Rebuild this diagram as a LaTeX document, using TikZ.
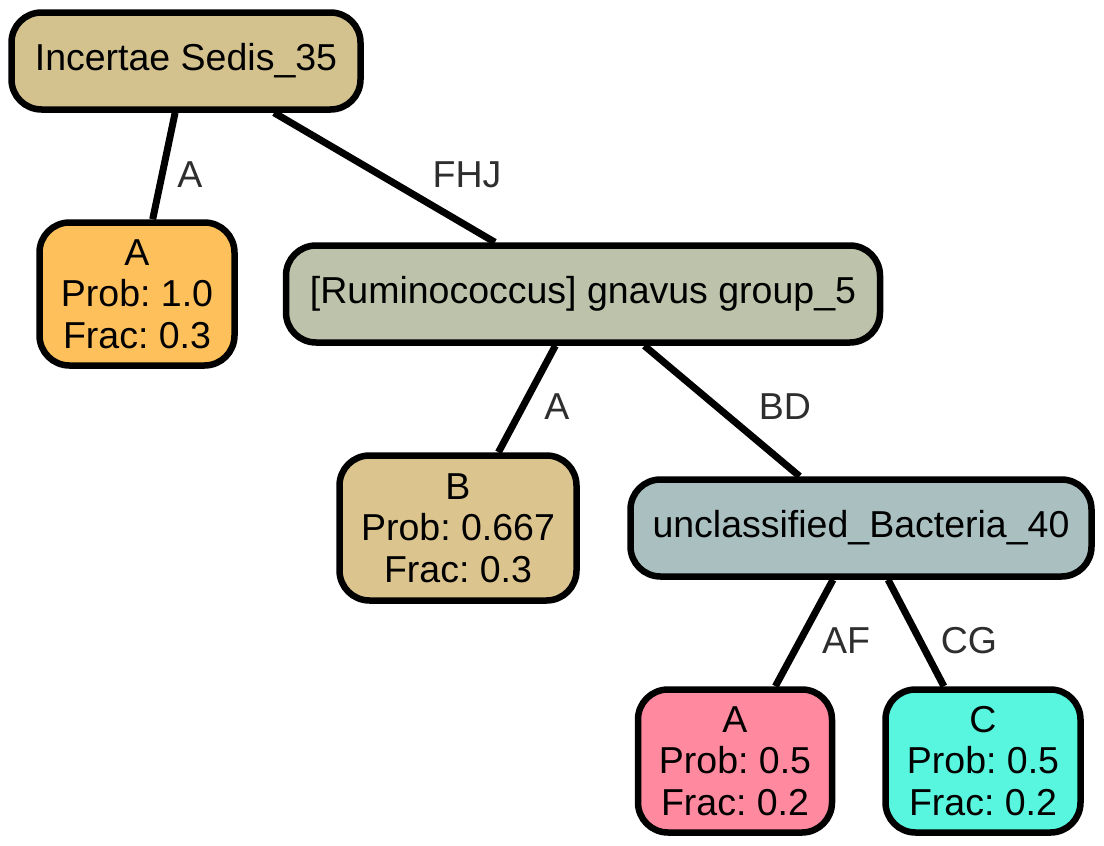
\documentclass[tikz,border=0pt]{standalone}
\usepackage{fontspec}
\setmainfont{Liberation Sans}
\frenchspacing
\definecolor{cInc}{HTML}{D3C28E}
\definecolor{cOrA}{HTML}{FDC05A}
\definecolor{cGna}{HTML}{BDC2AA}
\definecolor{cB}{HTML}{DBC48D}
\definecolor{cUnc}{HTML}{A9BFC0}
\definecolor{cPink}{HTML}{FF899E}
\definecolor{cCy}{HTML}{58F5DF}
\definecolor{lblgray}{HTML}{2E2E2E}
\begin{document}
\begin{tikzpicture}[x=1pt,y=-1pt,
  tnode/.style={draw=black, line width=6.5pt, rounded corners=30pt, inner sep=0pt,
    font=\fontsize{37.5}{41.5}\selectfont\frenchspacing, align=center},
  onel/.style={tnode, text height=27pt, text depth=8pt},
  lbl/.style={font=\fontsize{37.5}{41.5}\selectfont, text=lblgray, inner sep=0pt},
  edge/.style={line width=7pt, draw=black}]
\useasboundingbox (0,0) rectangle (1104,846);
\node[onel, fill=cInc, minimum width=349pt, minimum height=97pt] (inc) at (186,61) {Incertae Sedis\_35};
\node[tnode, fill=cOrA, minimum width=195pt, minimum height=143pt] (oa) at (137,294) {A\\Prob: 1.0\\Frac: 0.3};
\node[onel, fill=cGna, minimum width=594pt, minimum height=97pt] (gna) at (583,294) {[Ruminococcus] gnavus group\_5};
\node[tnode, fill=cB, minimum width=237pt, minimum height=145pt] (b) at (458,528) {B\\Prob: 0.667\\Frac: 0.3};
\node[onel, fill=cUnc, minimum width=461pt, minimum height=97pt] (unc) at (861,528) {unclassified\_Bacteria\_40};
\node[tnode, fill=cPink, minimum width=194pt, minimum height=143pt] (pa) at (735,761) {A\\Prob: 0.5\\Frac: 0.2};
\node[tnode, fill=cCy, minimum width=195pt, minimum height=143pt] (c) at (983,761) {C\\Prob: 0.5\\Frac: 0.2};
\draw[edge] (inc) -- (oa);
\draw[edge] (inc) -- (gna);
\draw[edge] (gna) -- (b);
\draw[edge] (gna) -- (unc);
\draw[edge] (unc) -- (pa);
\draw[edge] (unc) -- (c);
\node[lbl] (l1) at (190,175) {A};
\node[lbl] (l2) at (467,175) {FHJ};
\node[lbl] (l3) at (557,407) {A};
\node[lbl] (l4) at (785,407) {BD};
\node[lbl] (l5) at (846,641) {AF};
\node[lbl] (l6) at (969,641) {CG};
\end{tikzpicture}
\end{document}
